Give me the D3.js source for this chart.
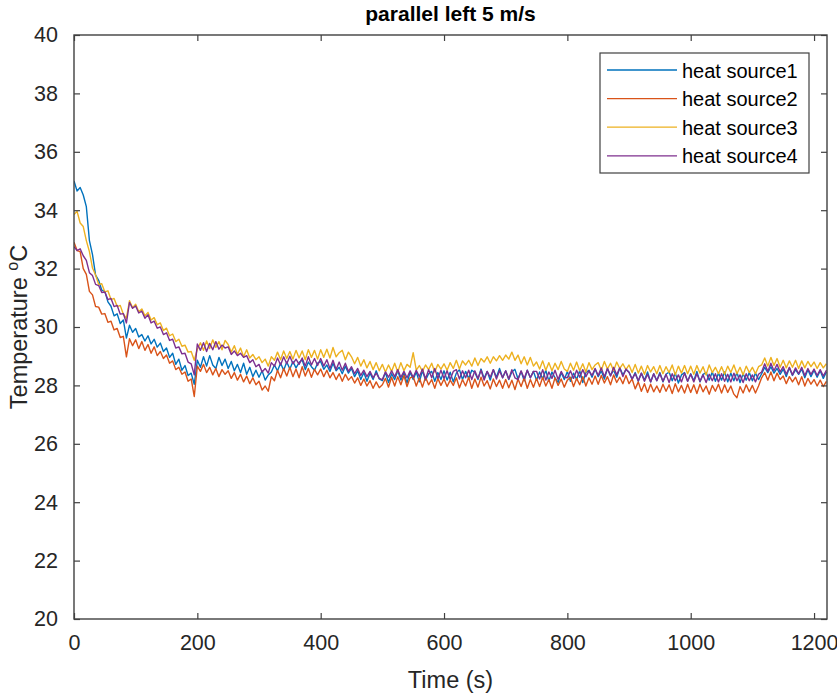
<!DOCTYPE html>
<html>
<head>
<meta charset="utf-8">
<script src="https://cdn.jsdelivr.net/npm/d3@7"></script>
<style>
  html, body { margin: 0; padding: 0; background: #fff; }
  svg { display: block; font-family: "Liberation Sans", Arial, Helvetica, sans-serif; }
</style>
</head>
<body>
<svg id="chart" width="837" height="697"></svg>
<script>
// Logged temperatures, one reading every 5 s from t = 0 to t = 1220 s
const sampleStart = 0;
const sampleStep = 5;

const seriesNames = ["heat source1", "heat source2", "heat source3", "heat source4"];
const seriesColors = ["#0072BD", "#D95319", "#EDB120", "#7E2F8E"];

const heatSource1 = [
  35.0, 34.66, 34.78, 34.52, 34.12, 32.96, 32.48, 31.78, 31.6, 31.26,
  31.22, 30.86, 30.71, 30.38, 30.45, 30.12, 30.24, 29.62, 30.06, 29.82,
  29.95, 29.66, 29.74, 29.52, 29.7, 29.42, 29.58, 29.31, 29.45, 29.16,
  29.28, 28.96, 29.1, 28.72, 28.9, 28.52, 28.68, 28.34, 28.42, 28.04,
  28.86, 28.62, 28.98, 28.66, 29.02, 28.7, 28.58, 28.96, 28.68, 28.9,
  28.58, 28.82, 28.5, 28.72, 28.44, 28.76, 28.38, 28.62, 28.3, 28.52,
  28.28, 28.5, 28.18, 28.36, 28.46, 28.7, 28.5, 28.76, 28.52, 28.8,
  28.56, 28.82, 28.6, 28.78, 28.88, 28.54, 28.8, 28.64, 28.52, 28.76,
  28.82, 28.55, 28.7, 28.48, 28.76, 28.5, 28.62, 28.4, 28.66, 28.42,
  28.58, 28.3, 28.5, 28.2, 28.44, 28.14, 28.42, 28.2, 28.5, 28.22,
  28.16, 28.44, 28.1, 28.4, 28.2, 28.5, 28.18, 28.42, 28.08, 28.45,
  28.2, 28.46, 28.12, 28.5, 28.18, 28.4, 28.48, 28.14, 28.44, 28.2,
  28.5, 28.18, 28.45, 28.12, 28.42, 28.54, 28.2, 28.48, 28.24, 28.52,
  28.44, 28.2, 28.56, 28.24, 28.48, 28.18, 28.54, 28.28, 28.58, 28.26,
  28.5, 28.2, 28.46, 28.55, 28.22, 28.48, 28.16, 28.52, 28.26, 28.48,
  28.18, 28.46, 28.22, 28.52, 28.14, 28.46, 28.26, 28.1, 28.44, 28.2,
  28.48, 28.14, 28.42, 28.2, 28.5, 28.1, 28.44, 28.52, 28.28, 28.56,
  28.3, 28.5, 28.22, 28.58, 28.34, 28.52, 28.28, 28.6, 28.36, 28.54,
  28.46, 28.2, 28.44, 28.14, 28.42, 28.18, 28.46, 28.12, 28.4, 28.16,
  28.44, 28.12, 28.38, 28.46, 28.16, 28.42, 28.08, 28.36, 28.44, 28.14,
  28.4, 28.16, 28.48, 28.12, 28.38, 28.44, 28.18, 28.46, 28.14, 28.42,
  28.18, 28.46, 28.12, 28.42, 28.16, 28.44, 28.1, 28.4, 28.18, 28.44,
  28.16, 28.42, 28.2, 28.4, 28.62, 28.44, 28.64, 28.42, 28.58, 28.38,
  28.56, 28.3, 28.6, 28.34, 28.54, 28.38, 28.56, 28.26, 28.54, 28.3,
  28.52, 28.28, 28.5, 28.24, 28.46
];

const heatSource2 = [
  32.9, 32.62, 32.58, 32.0, 31.8, 31.22, 31.1, 30.7, 30.68, 30.44,
  30.46, 30.16, 30.2, 29.9, 29.95, 29.64, 29.68, 28.98, 29.6, 29.36,
  29.56, 29.26, 29.5, 29.2, 29.4, 29.1, 29.32, 29.02, 29.16, 28.92,
  29.04, 28.76, 28.84, 28.54, 28.62, 28.38, 28.46, 28.14, 28.22, 27.62,
  28.66, 28.48, 28.72, 28.44, 28.62, 28.36, 28.58, 28.3, 28.54, 28.38,
  28.5, 28.24, 28.44, 28.18, 28.38, 28.12, 28.32, 28.06, 28.26, 28.02,
  28.14, 27.84, 27.98, 27.8, 28.3, 28.16, 28.52, 28.26, 28.58, 28.32,
  28.62, 28.3, 28.56, 28.26, 28.64, 28.32, 28.58, 28.28, 28.55, 28.36,
  28.56, 28.3, 28.52, 28.26, 28.44, 28.2, 28.4, 28.14, 28.38, 28.18,
  28.3, 28.08, 28.26, 28.0, 28.22, 27.98, 28.16, 27.9, 28.12, 27.92,
  28.02, 28.24, 27.94, 28.28, 27.98, 28.3, 28.02, 28.34, 27.96, 28.26,
  28.3, 27.98, 28.26, 27.94, 28.28, 28.02, 28.2, 27.9, 28.24, 28.0,
  28.22, 27.96, 28.18, 28.0, 28.26, 27.92, 28.2, 27.98, 28.28, 27.9,
  28.22, 27.94, 28.28, 27.98, 28.16, 27.88, 28.22, 27.96, 28.18, 27.9,
  28.2, 27.92, 28.18, 27.86, 28.22, 27.96, 28.26, 27.9, 28.2, 27.94,
  28.24, 27.96, 28.28, 27.98, 28.2, 27.9, 28.26, 28.0, 28.22, 27.94,
  28.18, 28.28, 27.96, 28.24, 28.02, 28.3, 27.98, 28.26, 28.04, 28.32,
  28.04, 28.34, 28.08, 28.3, 28.02, 28.36, 28.1, 28.28, 28.06, 28.34,
  28.06, 28.22, 27.88, 28.12, 27.8, 28.06, 27.76, 28.04, 27.78, 27.98,
  27.76, 28.04, 27.8, 28.02, 27.72, 28.06, 27.78, 28.0, 27.74, 28.04,
  27.76, 28.02, 27.72, 28.04, 27.78, 27.98, 27.7, 28.0, 27.8, 28.04,
  27.74, 28.02, 27.76, 27.98, 27.7, 27.58, 27.96, 27.74, 28.02, 27.78,
  28.0, 27.74, 27.98, 28.26, 28.44, 28.18, 28.46, 28.16, 28.42, 28.2,
  28.32, 28.06, 28.3, 28.12, 28.28, 28.02, 28.3, 27.98, 28.24, 28.04,
  28.2, 27.98, 28.18, 27.96, 28.14
];

const heatSource3 = [
  33.85, 33.96, 33.56, 33.44, 32.96, 32.58, 32.02, 31.78, 31.46, 31.48,
  31.2, 31.24, 30.94, 30.98, 30.7, 30.74, 30.44, 30.3, 30.9, 30.66,
  30.78, 30.52, 30.62, 30.38, 30.5, 30.24, 30.32, 30.08, 30.14, 29.88,
  29.96, 29.7, 29.76, 29.5, 29.58, 29.34, 29.38, 29.14, 29.16, 28.86,
  29.24, 29.46, 29.2, 29.52, 29.26, 29.56, 29.3, 29.5, 29.22, 29.54,
  29.4, 29.14, 29.36, 29.06, 29.28, 28.98, 29.22, 28.94, 29.06, 28.88,
  28.98, 28.78, 28.9, 28.66, 28.98, 28.86, 29.14, 28.88, 29.18, 28.92,
  29.16, 28.9, 29.2, 28.94, 29.18, 28.88, 29.22, 28.96, 29.2, 28.9,
  29.22, 28.96, 29.24, 28.94, 29.3, 28.98, 29.12, 29.2, 28.88, 29.14,
  28.98, 28.74, 28.96, 28.66, 28.88, 28.6, 28.82, 28.54, 28.78, 28.5,
  28.72, 28.46, 28.7, 28.48, 28.76, 28.46, 28.78, 28.5, 28.72, 28.62,
  29.12, 28.52, 28.68, 28.48, 28.7, 28.54, 28.76, 28.46, 28.72, 28.56,
  28.74, 28.52, 28.78, 28.58, 28.86, 28.56, 28.84, 28.7, 28.86, 28.66,
  28.94, 28.68, 28.92, 28.8, 28.98, 28.76, 28.98, 28.84, 29.02, 28.86,
  29.04, 28.9, 29.14, 28.86, 29.04, 28.74, 28.98, 28.7, 28.96, 28.66,
  28.8, 28.56, 28.84, 28.52, 28.78, 28.5, 28.76, 28.54, 28.82, 28.56,
  28.48, 28.76, 28.52, 28.8, 28.5, 28.74, 28.46, 28.78, 28.54, 28.7,
  28.78, 28.52, 28.82, 28.56, 28.76, 28.5, 28.8, 28.58, 28.74, 28.54,
  28.7, 28.44, 28.72, 28.42, 28.66, 28.38, 28.68, 28.46, 28.64, 28.4,
  28.68, 28.4, 28.64, 28.44, 28.7, 28.36, 28.66, 28.42, 28.68, 28.4,
  28.66, 28.38, 28.68, 28.42, 28.64, 28.36, 28.7, 28.44, 28.62, 28.4,
  28.64, 28.38, 28.66, 28.44, 28.7, 28.4, 28.62, 28.36, 28.66, 28.44,
  28.62, 28.4, 28.64, 28.7, 28.94, 28.66, 28.96, 28.68, 28.92, 28.62,
  28.86, 28.6, 28.84, 28.62, 28.86, 28.58, 28.84, 28.6, 28.82, 28.64,
  28.8, 28.58, 28.78, 28.6, 28.74
];

const heatSource4 = [
  32.75, 32.62, 32.68, 32.44, 32.28, 31.86, 31.76, 31.46, 31.42, 31.18,
  31.2, 30.94, 30.98, 30.7, 30.74, 30.44, 30.46, 30.14, 30.84, 30.64,
  30.72, 30.48, 30.54, 30.3, 30.42, 30.14, 30.2, 29.96, 30.0, 29.74,
  29.8, 29.54, 29.58, 29.28, 29.32, 29.08, 29.1, 28.8, 28.74, 28.36,
  29.42, 29.2, 29.46, 29.16, 29.44, 29.22, 29.5, 29.24, 29.38, 29.28,
  29.32, 29.06, 29.18, 29.02, 29.1, 28.96, 29.02, 28.78, 28.88, 28.64,
  28.72, 28.46, 28.58, 28.42, 28.78, 28.66, 28.94, 28.7, 28.98, 28.74,
  29.0, 28.74, 28.9, 28.72, 28.94, 28.66, 28.98, 28.7, 28.92, 28.68,
  28.92, 28.66, 28.88, 28.58, 28.86, 28.54, 28.8, 28.52, 28.76, 28.48,
  28.64, 28.4, 28.58, 28.34, 28.52, 28.3, 28.48, 28.26, 28.42, 28.24,
  28.2, 28.46, 28.28, 28.5, 28.3, 28.54, 28.28, 28.48, 28.26, 28.5,
  28.28, 28.52, 28.3, 28.56, 28.22, 28.54, 28.26, 28.58, 28.24, 28.52,
  28.24, 28.5, 28.2, 28.48, 28.54, 28.22, 28.5, 28.26, 28.52, 28.2,
  28.5, 28.24, 28.52, 28.18, 28.48, 28.28, 28.54, 28.22, 28.5, 28.26,
  28.5, 28.22, 28.54, 28.26, 28.2, 28.5, 28.24, 28.52, 28.26, 28.48,
  28.48, 28.22, 28.54, 28.18, 28.46, 28.24, 28.52, 28.2, 28.48, 28.28,
  28.26, 28.5, 28.24, 28.52, 28.28, 28.54, 28.3, 28.5, 28.34, 28.58,
  28.34, 28.6, 28.3, 28.58, 28.32, 28.62, 28.36, 28.6, 28.3, 28.56,
  28.44, 28.22, 28.4, 28.16, 28.42, 28.14, 28.38, 28.12, 28.4, 28.16,
  28.4, 28.14, 28.38, 28.1, 28.4, 28.16, 28.36, 28.12, 28.42, 28.14,
  28.38, 28.12, 28.4, 28.14, 28.36, 28.1, 28.38, 28.16, 28.4, 28.12,
  28.4, 28.14, 28.38, 28.12, 28.42, 28.16, 28.36, 28.1, 28.4, 28.16,
  28.36, 28.12, 28.38, 28.46, 28.74, 28.48, 28.76, 28.5, 28.72, 28.46,
  28.64, 28.38, 28.62, 28.36, 28.6, 28.4, 28.62, 28.34, 28.58, 28.38,
  28.56, 28.34, 28.54, 28.32, 28.52
];

const seriesValues = [heatSource1, heatSource2, heatSource3, heatSource4];

const xTickValues = [0, 200, 400, 600, 800, 1000, 1200];
const yTickValues = [20, 22, 24, 26, 28, 30, 32, 34, 36, 38, 40];
const xDomain = [0, 1221];
const yDomain = [20, 40];

const chartTitle = "parallel left 5 m/s";
const xLabel = "Time (s)";

// Layout
const plot = { left: 74, top: 35, right: 827, bottom: 619 };
const axisColor = "#404040";
const textColor = "#262626";
const tickLen = 6;

const svg = d3.select("#chart");
svg.append("rect").attr("width", 837).attr("height", 697).attr("fill", "#fff");

const x = d3.scaleLinear().domain(xDomain).range([plot.left, plot.right]);
const y = d3.scaleLinear().domain(yDomain).range([plot.bottom, plot.top]);

svg.append("defs").append("clipPath").attr("id", "plot-clip")
  .append("rect")
  .attr("x", plot.left).attr("y", plot.top)
  .attr("width", plot.right - plot.left).attr("height", plot.bottom - plot.top);

// Data lines
const line = d3.line()
  .x((d, i) => x(sampleStart + i * sampleStep))
  .y(d => y(d));

const lineLayer = svg.append("g").attr("clip-path", "url(#plot-clip)");
seriesValues.forEach((vals, k) => {
  lineLayer.append("path")
    .datum(vals)
    .attr("fill", "none")
    .attr("stroke", seriesColors[k])
    .attr("stroke-width", 1.4)
    .attr("stroke-linejoin", "round")
    .attr("d", line);
});

// Axes with inward ticks on all four sides (box style)
function styleAxis(g) {
  g.select(".domain").remove();
  g.selectAll(".tick line").attr("stroke", axisColor).attr("stroke-width", 1.2);
  g.selectAll(".tick text")
    .attr("fill", textColor)
    .style("font-size", "21.5px")
    .style("font-family", "'Liberation Sans', Arial, Helvetica, sans-serif");
}

svg.append("g")
  .attr("transform", `translate(0,${plot.bottom})`)
  .call(d3.axisBottom(x).tickValues(xTickValues).tickSizeInner(-tickLen).tickSizeOuter(0).tickPadding(16).tickFormat(d3.format("d")))
  .call(styleAxis);

svg.append("g")
  .attr("transform", `translate(0,${plot.top})`)
  .call(d3.axisTop(x).tickValues(xTickValues).tickSizeInner(-tickLen).tickSizeOuter(0).tickFormat(""))
  .call(styleAxis);

svg.append("g")
  .attr("transform", `translate(${plot.left},0)`)
  .call(d3.axisLeft(y).tickValues(yTickValues).tickSizeInner(-tickLen).tickSizeOuter(0).tickPadding(16).tickFormat(d3.format("d")))
  .call(styleAxis);

svg.append("g")
  .attr("transform", `translate(${plot.right},0)`)
  .call(d3.axisRight(y).tickValues(yTickValues).tickSizeInner(-tickLen).tickSizeOuter(0).tickFormat(""))
  .call(styleAxis);

// Box outline
svg.append("rect")
  .attr("x", plot.left).attr("y", plot.top)
  .attr("width", plot.right - plot.left).attr("height", plot.bottom - plot.top)
  .attr("fill", "none")
  .attr("stroke", axisColor)
  .attr("stroke-width", 1.4);

// Title
svg.append("text")
  .attr("x", (plot.left + plot.right) / 2)
  .attr("y", 21)
  .attr("text-anchor", "middle")
  .attr("fill", "#000")
  .style("font-size", "21px")
  .style("font-weight", "bold")
  .text(chartTitle);

// X axis label
svg.append("text")
  .attr("x", (plot.left + plot.right) / 2)
  .attr("y", 688)
  .attr("text-anchor", "middle")
  .attr("fill", textColor)
  .style("font-size", "23.5px")
  .text(xLabel);

// Y axis label with superscript degree mark
const yLab = svg.append("text")
  .attr("transform", `translate(27,${(plot.top + plot.bottom) / 2}) rotate(-90)`)
  .attr("text-anchor", "middle")
  .attr("fill", textColor)
  .style("font-size", "23.5px");
yLab.append("tspan").text("Temperature ");
yLab.append("tspan").attr("dy", -9).style("font-size", "16px").text("o");
yLab.append("tspan").attr("dy", 9).text("C");

// Legend
const legend = { x: 600, y: 53, w: 209, h: 120, rowGap: 28.6, firstRow: 70 };
svg.append("rect")
  .attr("x", legend.x).attr("y", legend.y)
  .attr("width", legend.w).attr("height", legend.h)
  .attr("fill", "#fff")
  .attr("stroke", axisColor)
  .attr("stroke-width", 1.2);

seriesNames.forEach((name, k) => {
  const ly = legend.firstRow + k * legend.rowGap;
  svg.append("line")
    .attr("x1", 607).attr("x2", 677)
    .attr("y1", ly).attr("y2", ly)
    .attr("stroke", seriesColors[k])
    .attr("stroke-width", 1.3);
  svg.append("text")
    .attr("x", 682)
    .attr("y", ly + 7.5)
    .attr("fill", "#000")
    .style("font-size", "20px")
    .text(name);
});
</script>
</body>
</html>
